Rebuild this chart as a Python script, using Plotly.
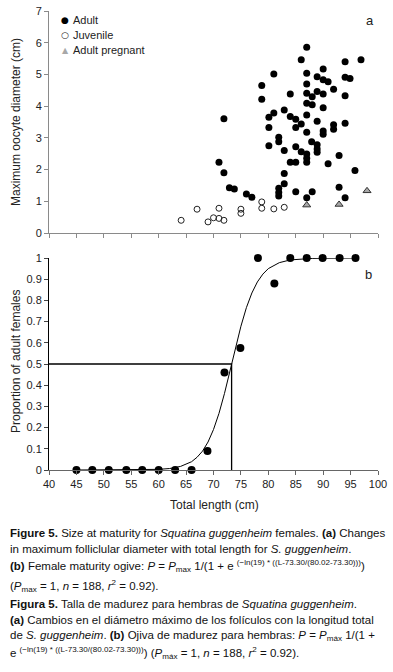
import plotly.graph_objects as go

# ---------------- data ----------------
adult_len = [87.0, 86.0, 94.0, 96.9, 81.0, 87.0, 90.0, 88.9, 90.0, 90.9, 94.0, 94.9,
             78.8, 87.0, 91.9, 87.0, 88.9, 84.0, 88.0, 90.0, 94.0, 78.8, 87.0, 88.0,
             90.0, 82.9, 81.0, 80.1, 87.0, 84.0, 85.0, 71.9, 88.9, 86.0, 85.0, 80.1,
             91.9, 94.0, 91.9, 90.0, 90.0, 87.0, 81.9, 81.9, 80.1, 85.0, 87.9, 88.9,
             88.9, 88.9, 86.0, 87.0, 82.9, 87.0, 87.0, 84.0, 85.0, 92.9, 90.9, 95.8,
             71.0, 71.9, 82.9, 82.9, 81.9, 81.9, 81.9, 72.9, 73.8, 76.0, 77.0, 85.0,
             87.0, 88.0, 92.9, 94.0]
adult_diam = [5.86, 5.46, 5.40, 5.46, 5.01, 5.04, 5.17, 4.93, 4.83, 4.77, 4.91, 4.87,
              4.65, 4.70, 4.53, 4.41, 4.46, 4.38, 4.30, 4.38, 4.33, 4.22, 4.09, 4.04,
              3.95, 3.88, 3.78, 3.65, 3.72, 3.67, 3.59, 3.60, 3.52, 3.44, 3.33, 3.33,
              3.41, 3.46, 3.27, 3.22, 3.11, 3.18, 3.02, 2.88, 2.75, 2.72, 2.88, 2.78,
              2.65, 2.55, 2.56, 2.49, 2.60, 2.36, 2.23, 2.23, 2.23, 2.44, 2.18, 1.97,
              2.23, 1.90, 1.88, 1.55, 1.41, 1.28, 1.17, 1.43, 1.39, 1.23, 1.13, 1.30,
              1.11, 1.30, 1.44, 1.11]

juv_len = [64.1, 67.0, 69.0, 70.0, 71.0, 71.9, 71.0, 75.0, 75.0, 78.8, 78.8, 81.0, 82.9]
juv_diam = [0.40, 0.75, 0.35, 0.48, 0.46, 0.40, 0.78, 0.75, 0.62, 0.98, 0.78, 0.76, 0.81]

preg_len = [87.0, 92.9, 98.0]
preg_diam = [0.88, 0.90, 1.33]

ogive_len = [45.0, 47.9, 50.9, 54.1, 57.0, 60.0, 63.0, 66.0, 68.9, 72.0, 74.9,
             78.1, 81.1, 84.0, 87.0, 89.9, 93.0, 95.9]
ogive_prop = [0, 0, 0, 0, 0, 0, 0, 0, 0.09, 0.46, 0.575,
              1.0, 0.88, 1.0, 1.0, 1.0, 1.0, 1.0]

# fitted ogive curve
curve_len = [45, 50, 55, 60, 62, 64, 66, 67, 68, 69, 70, 71, 72, 73, 74, 75, 76,
             77, 78, 79, 80, 82, 84, 86, 88, 90, 96]
curve_prop = [0.0, 0.0, 0.0003, 0.003, 0.007, 0.017, 0.039, 0.06, 0.089, 0.132, 0.191,
              0.267, 0.361, 0.467, 0.576, 0.678, 0.766, 0.835, 0.887, 0.924, 0.95,
              0.978, 0.991, 0.996, 0.998, 0.999, 1.0]

l50 = 73.30
x_ticks = [40, 45, 50, 55, 60, 65, 70, 75, 80, 85, 90, 95, 100]
prop_ticks = [0, 0.1, 0.2, 0.3, 0.4, 0.5, 0.6, 0.7, 0.8, 0.9, 1]
prop_ticktext = ["0", "0.1", "0.2", "0.3", "0.4", "0.5", "0.6", "0.7", "0.8", "0.9", "1"]

legend_labels = ["Adult", "Juvenile", "Adult pregnant"]

# ---------------- layout helpers ----------------
W, H = 393, 672
L_PX, R_PX, T_PX, B_PX = 49, 378, 11, 470
PW, PH = R_PX - L_PX, B_PX - T_PX


def px2x(px):
    return (px - L_PX) / PW


def py2y(py):
    return (B_PX - py) / PH


FONT = "Liberation Sans, Arial, sans-serif"
GRAY = "#8a8a8a"
PREG_FILL = "#a8a8a8"

fig = go.Figure()

# top panel
fig.add_trace(go.Scatter(x=adult_len, y=adult_diam, mode="markers", name=legend_labels[0],
                         marker=dict(symbol="circle", size=7, color="black"),
                         xaxis="x", yaxis="y", cliponaxis=False, showlegend=False))
fig.add_trace(go.Scatter(x=juv_len, y=juv_diam, mode="markers", name=legend_labels[1],
                         marker=dict(symbol="circle-open", size=6, color="#222",
                                     line=dict(width=1)),
                         xaxis="x", yaxis="y", cliponaxis=False, showlegend=False))
fig.add_trace(go.Scatter(x=preg_len, y=preg_diam, mode="markers", name=legend_labels[2],
                         marker=dict(symbol="triangle-up", size=7, color=PREG_FILL,
                                     line=dict(width=1, color="#333")),
                         xaxis="x", yaxis="y", cliponaxis=False, showlegend=False))

# bottom panel
fig.add_trace(go.Scatter(x=curve_len, y=curve_prop, mode="lines", showlegend=False,
                         line=dict(color="black", width=1),
                         xaxis="x2", yaxis="y2", cliponaxis=False))
fig.add_trace(go.Scatter(x=[x_ticks[0], l50, l50], y=[0.5, 0.5, 0], mode="lines",
                         showlegend=False, line=dict(color="black", width=1.3),
                         xaxis="x2", yaxis="y2"))
fig.add_trace(go.Scatter(x=ogive_len, y=ogive_prop, mode="markers", showlegend=False,
                         marker=dict(symbol="circle", size=8, color="black"),
                         xaxis="x2", yaxis="y2", cliponaxis=False))

top_dom = [py2y(233), 1]
bot_dom = [0, py2y(258)]

axis_common = dict(showgrid=False, zeroline=False, showline=True, ticks="outside",
                   ticklen=4, tickwidth=1, automargin=False)
tick_font = dict(family=FONT, size=11, color="#222")

fig.update_layout(
    width=W, height=H,
    margin=dict(l=L_PX, r=W - R_PX, t=T_PX, b=H - B_PX, pad=0),
    paper_bgcolor="white", plot_bgcolor="white",
    font=dict(family=FONT, size=11, color="#222"),
    showlegend=False,
    xaxis=dict(domain=[0, 1], range=[40, 100], tickvals=x_ticks, showticklabels=False,
               linecolor=GRAY, tickcolor=GRAY, anchor="y", **axis_common),
    yaxis=dict(domain=top_dom, range=[0, 7], dtick=1, linecolor=GRAY, tickcolor=GRAY,
               anchor="x", tickfont=tick_font, **axis_common),
    xaxis2=dict(domain=[0, 1], range=[40, 100], tickvals=x_ticks, linecolor="#666",
                tickcolor="#666", anchor="y2", tickfont=tick_font, **axis_common),
    yaxis2=dict(domain=bot_dom, range=[0, 1], tickvals=prop_ticks, ticktext=prop_ticktext,
                linecolor="black", tickcolor="#444", anchor="x2", tickfont=tick_font,
                **axis_common),
)

ann = []
ann.append(dict(text="Maximum oocyte diameter (cm)", x=px2x(16), y=py2y(122), textangle=-90,
                font=dict(size=12)))
ann.append(dict(text="Proportion of adult females", x=px2x(16), y=py2y(362), textangle=-90,
                font=dict(size=12)))
ann.append(dict(text="Total length (cm)", x=px2x(214), y=py2y(505), font=dict(size=12)))
ann.append(dict(text="a", x=px2x(370), y=py2y(20), font=dict(size=13)))
ann.append(dict(text="b", x=px2x(368), y=py2y(274), font=dict(size=13)))

# manual legend (compact rows like the original)
legend_rows = [(20, "\u25CF", "black", 9), (35, "\u25CB", "#222", 9), (50, "\u25B2", PREG_FILL, 8)]
for (py, sym, col, sz), lab in zip(legend_rows, legend_labels):
    ann.append(dict(text=sym, x=px2x(65), y=py2y(py), font=dict(size=sz, color=col,
                                                             family="DejaVu Sans")))
    ann.append(dict(text=lab, x=px2x(71), y=py2y(py), xanchor="left", font=dict(size=11)))

caption = [
    (533, "<b>Figure 5.</b> Size at maturity for <i>Squatina guggenheim</i> females. <b>(a)</b> Changes"),
    (549, "in maximum folliclular diameter with total length for <i>S. guggenheim</i>."),
    (566, "<b>(b)</b> Female maturity ogive: <i>P</i> = <i>P</i><sub>max</sub> 1/(1 + e <sup>(\u2212ln(19) * ((L-73.30/(80.02-73.30)))</sup>)"),
    (586, "(<i>P</i><sub>max</sub> = 1, <i>n</i> = 188, <i>r</i><sup>2</sup> = 0.92)."),
    (604, "<b>Figura 5.</b> Talla de madurez para hembras de <i>Squatina guggenheim</i>."),
    (620, "<b>(a)</b> Cambios en el diámetro máximo de los folículos con la longitud total"),
    (636, "de <i>S. guggenheim</i>. <b>(b)</b> Ojiva de madurez para hembras: <i>P</i> = <i>P</i><sub>máx</sub> 1/(1 +"),
    (653, "e <sup>(\u2212ln(19) * ((L-73.30/(80.02-73.30)))</sup>) (<i>P</i><sub>máx</sub> = 1, <i>n</i> = 188, <i>r</i><sup>2</sup> = 0.92)."),
]
for py, txt in caption:
    ann.append(dict(text=txt, x=px2x(8), y=py2y(py), xanchor="left",
                    font=dict(size=11.5, color="#111")))

for a in ann:
    a.setdefault("xanchor", "center")
    a.update(xref="paper", yref="paper", yanchor="middle", showarrow=False)
    f = a["font"]
    a["font"] = dict(family=f.get("family", FONT), color=f.get("color", "#222"), size=f["size"])

fig.update_layout(annotations=ann)
fig.write_html("out.html", config={"displayModeBar": False},
               post_script="document.body.style.margin='0';document.body.style.overflow='hidden';")
